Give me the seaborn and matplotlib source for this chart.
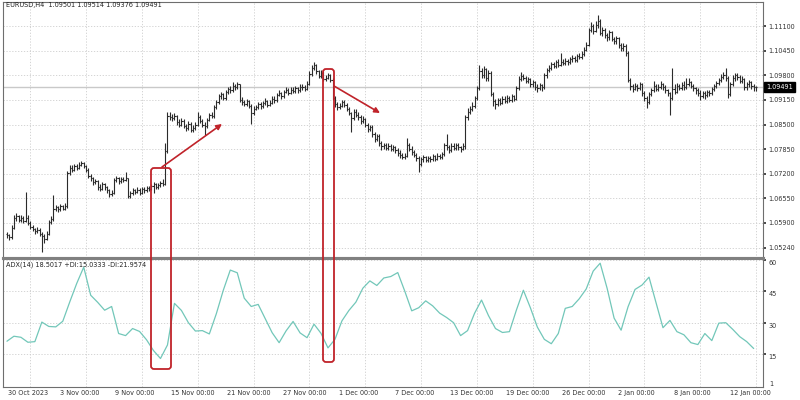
import numpy as np
import pandas as pd
import seaborn as sns
import matplotlib.pyplot as plt
import matplotlib.transforms as mtransforms
from matplotlib.patches import FancyBboxPatch, FancyArrowPatch

# EURUSD H4, prices in pips above 1.05000
first_open = 60
close = [58, 52, 78, 102, 108, 98, 104, 96, 104, 90,
         80, 74, 70, 72, 62, 56, 48, 62, 92, 100,
         128, 132, 126, 134, 128, 136, 222, 236, 230, 240,
         236, 244, 248, 240, 230, 214, 208, 198, 200, 186,
         180, 192, 184, 176, 166, 170, 204, 208, 200, 206,
         204, 208, 162, 168, 176, 172, 178, 170, 180, 176,
         182, 180, 188, 192, 184, 190, 196, 194, 280, 372,
         370, 366, 372, 356, 350, 360, 346, 340, 352, 336,
         342, 350, 370, 360, 350, 346, 362, 374, 372, 396,
         410, 424, 430, 420, 436, 444, 440, 452, 448, 456,
         416, 410, 404, 412, 400, 380, 392, 396, 404, 398,
         406, 412, 402, 408, 418, 414, 428, 432, 424, 436,
         440, 434, 442, 438, 446, 440, 450, 448, 444, 458,
         484, 500, 506, 490, 478, 486, 470, 474, 480, 468,
         420, 404, 396, 400, 410, 402, 392, 380, 368, 384,
         376, 370, 360, 364, 350, 338, 344, 326, 312, 320,
         300, 292, 296, 288, 294, 286, 290, 284, 276, 270,
         264, 268, 296, 286, 278, 270, 262, 246, 258, 264,
         256, 262, 258, 266, 260, 268, 264, 272, 296, 290,
         282, 294, 288, 296, 290, 286, 292, 370, 384, 392,
         400, 420, 446, 490, 480, 496, 472, 486, 430, 412,
         404, 414, 408, 418, 412, 420, 416, 424, 418, 446,
         470, 478, 474, 466, 470, 456, 462, 450, 446, 454,
         448, 480, 494, 500, 510, 504, 514, 508, 516, 512,
         518, 514, 522, 526, 520, 530, 528, 536, 548, 560,
         600, 610, 598, 612, 624, 592, 600, 586, 580, 594,
         576, 570, 578, 560, 552, 558, 540, 468, 452, 444,
         452, 446, 456, 432, 420, 410, 430, 440, 452, 444,
         450, 456, 448, 440, 432, 420, 444, 436, 452, 446,
         454, 448, 458, 462, 452, 446, 440, 434, 426, 432,
         428, 436, 432, 444, 452, 460, 468, 476, 480, 474,
         430, 456, 472, 480, 476, 466, 470, 448, 456, 462,
         452, 450, 449]
high = [66, 62, 84, 110, 116, 112, 110, 108, 172, 110,
        94, 84, 78, 80, 76, 66, 60, 68, 98, 108,
        164, 138, 134, 140, 138, 142, 228, 244, 242, 246,
        246, 250, 254, 252, 244, 234, 220, 212, 206, 204,
        192, 198, 196, 188, 180, 176, 210, 214, 212, 212,
        212, 224, 210, 174, 182, 180, 184, 182, 186, 184,
        188, 188, 194, 198, 196, 196, 202, 206, 300, 382,
        384, 378, 380, 376, 364, 368, 364, 352, 358, 356,
        348, 356, 382, 374, 364, 356, 368, 380, 384, 402,
        416, 430, 436, 434, 442, 450, 452, 462, 458, 462,
        458, 422, 416, 418, 416, 404, 398, 402, 410, 410,
        412, 420, 416, 414, 424, 424, 434, 440, 436, 442,
        448, 446, 450, 448, 452, 450, 458, 456, 454, 466,
        490, 506, 515, 510, 494, 494, 490, 482, 486, 484,
        472, 424, 410, 408, 416, 414, 406, 396, 384, 390,
        392, 382, 376, 372, 368, 354, 350, 348, 330, 326,
        324, 306, 302, 300, 300, 298, 296, 294, 288, 282,
        276, 274, 314, 302, 292, 284, 276, 268, 264, 270,
        268, 268, 266, 272, 270, 274, 272, 278, 302, 325,
        296, 300, 300, 302, 300, 294, 300, 376, 394, 400,
        410, 426, 452, 507, 500, 504, 500, 494, 490, 436,
        418, 420, 420, 424, 424, 428, 426, 430, 428, 452,
        478, 488, 484, 478, 476, 474, 468, 466, 456, 460,
        458, 486, 500, 506, 516, 516, 520, 522, 539, 522,
        526, 524, 528, 534, 532, 536, 540, 544, 554, 568,
        606, 620, 616, 622, 639, 628, 608, 604, 592, 600,
        598, 582, 584, 582, 566, 564, 562, 544, 472, 458,
        460, 458, 462, 460, 438, 426, 436, 446, 466, 458,
        458, 464, 460, 454, 444, 436, 499, 456, 460, 458,
        462, 466, 472, 474, 466, 458, 450, 446, 440, 438,
        438, 442, 440, 450, 458, 466, 474, 484, 488, 499,
        478, 462, 480, 486, 486, 482, 478, 474, 462, 468,
        466, 458, 451]
low = [50, 44, 48, 74, 96, 92, 92, 90, 92, 84,
       74, 68, 62, 64, 56, 14, 36, 44, 58, 88,
       96, 122, 120, 122, 124, 124, 130, 216, 224, 226,
       230, 232, 240, 234, 224, 208, 202, 190, 192, 178,
       174, 176, 178, 170, 158, 162, 166, 198, 194, 196,
       198, 200, 156, 156, 164, 166, 168, 164, 166, 170,
       172, 174, 176, 170, 180, 180, 186, 188, 190, 276,
       362, 358, 362, 350, 344, 346, 340, 334, 336, 330,
       330, 336, 346, 354, 344, 322, 342, 358, 366, 368,
       390, 404, 418, 414, 416, 430, 434, 436, 442, 444,
       410, 402, 398, 398, 394, 351, 374, 388, 390, 392,
       394, 402, 396, 398, 404, 408, 410, 424, 418, 420,
       432, 428, 430, 432, 434, 434, 436, 442, 438, 440,
       454, 478, 494, 484, 472, 472, 464, 466, 470, 462,
       414, 396, 388, 390, 396, 396, 386, 374, 330, 362,
       370, 362, 352, 354, 344, 330, 332, 318, 304, 306,
       294, 284, 286, 282, 284, 280, 280, 276, 268, 262,
       258, 258, 264, 280, 270, 264, 254, 225, 240, 252,
       250, 250, 250, 254, 254, 256, 258, 260, 268, 284,
       276, 278, 282, 284, 284, 278, 282, 286, 362, 378,
       386, 394, 414, 440, 472, 474, 466, 466, 424, 400,
       392, 398, 402, 404, 406, 408, 410, 410, 412, 414,
       442, 466, 468, 460, 460, 450, 450, 440, 436, 440,
       438, 444, 474, 488, 494, 498, 500, 502, 504, 506,
       508, 508, 510, 516, 514, 516, 522, 524, 532, 544,
       556, 594, 590, 594, 606, 586, 584, 578, 570, 574,
       570, 562, 562, 552, 544, 544, 530, 462, 440, 436,
       440, 438, 440, 426, 412, 394, 404, 424, 436, 438,
       438, 444, 442, 432, 424, 375, 414, 430, 432, 440,
       440, 442, 444, 452, 446, 438, 430, 424, 416, 420,
       418, 422, 424, 428, 438, 446, 454, 462, 470, 466,
       420, 426, 452, 466, 468, 460, 460, 440, 442, 450,
       444, 438, 438]

# ADX(14), read every 3rd bar
adx = [21.0, 23.4, 22.9, 20.5, 20.8, 30.2, 28.1, 27.9, 30.6, 39.9,
       48.8, 56.6, 43.1, 39.7, 35.9, 37.7, 24.7, 23.7, 27.1, 25.7,
       21.7, 16.5, 12.7, 19.2, 39.2, 35.8, 29.9, 25.9, 26.1, 24.5,
       34.2, 45.5, 55.2, 53.9, 41.7, 37.7, 38.7, 31.9, 25.1, 20.3,
       26.0, 30.5, 25.0, 22.7, 29.2, 24.8, 17.8, 21.9, 30.8, 35.8,
       39.8, 46.5, 50.0, 47.8, 51.4, 52.1, 54.0, 45.1, 35.6, 37.1,
       40.4, 38.0, 34.5, 32.4, 29.9, 23.7, 26.1, 34.4, 40.8, 33.3,
       27.1, 25.2, 25.6, 36.0, 45.5, 37.1, 27.8, 21.9, 19.8, 24.7,
       36.8, 37.7, 41.4, 46.1, 54.7, 58.5, 46.4, 32.1, 26.3, 37.6,
       45.9, 48.0, 51.8, 39.6, 27.5, 31.0, 25.6, 24.1, 20.3, 19.4,
       24.7, 21.3, 29.7, 29.9, 26.7, 23.2, 20.8, 17.5]

date_labels = ["30 Oct 2023", "3 Nov 00:00", "9 Nov 00:00", "15 Nov 00:00",
               "21 Nov 00:00", "27 Nov 00:00", "1 Dec 00:00", "7 Dec 00:00",
               "13 Dec 00:00", "19 Dec 00:00", "26 Dec 00:00", "2 Jan 00:00",
               "8 Jan 00:00", "12 Jan 00:00"]
date_bars = [0, 22, 46, 70, 94, 118, 142, 166, 190, 214, 238, 262, 286, 310]
price_ticks = [1.11100, 1.10450, 1.09800, 1.09150, 1.08500,
               1.07850, 1.07200, 1.06550, 1.05900, 1.05240]
last_price = 1.09491

df = pd.DataFrame({"close": close, "high": high, "low": low})
df["open"] = [first_open] + close[:-1]
for c in ["open", "close", "high", "low"]:
    df[c] = 1.05 + df[c] / 10000
df["bar"] = np.arange(len(df))

adx_df = pd.DataFrame({"bar": np.arange(len(adx)) * 3, "adx": adx})

sns.set_theme(style="white")
plt.rcParams["font.family"] = ["DejaVu Sans"]
fs = 4.7
bar_col = "#2b2b2b"
frame = "#6e6e6e"
grid_kw = dict(color="#cdcdcd", linestyle=(0, (1.5, 2)), linewidth=0.6)
red = "#c0232a"

fig = plt.figure(figsize=(8, 4), dpi=100)
ax = fig.add_axes([3 / 800, 142 / 400, 760 / 800, 256 / 400])
ax2 = fig.add_axes([3 / 800, 13 / 400, 760 / 800, 129 / 400])

# price bars
ax.axhline(last_price, color="#c9c9c9", lw=1.0, zorder=1)
ax.vlines(df["bar"], df["low"], df["high"], color=bar_col, lw=0.8, zorder=3)
ax.hlines(df["open"], df["bar"] - 0.5, df["bar"], color=bar_col, lw=0.8, zorder=3)
ax.hlines(df["close"], df["bar"], df["bar"] + 0.5, color=bar_col, lw=0.8, zorder=3)

# adx line
sns.lineplot(data=adx_df, x="bar", y="adx", ax=ax2, color="#72c7b9", lw=0.9)

for a in (ax, ax2):
    a.set_xlim(-1.7, 325)
    a.set_xticks(date_bars)
    a.set_xticks(np.arange(10, 325, 12), minor=True)
    a.grid(True, which="minor", axis="x", **grid_kw)
    a.grid(True, which="major", axis="y", **grid_kw)
    a.yaxis.tick_right()
    a.set_xlabel("")
    a.set_ylabel("")
    for s in a.spines.values():
        s.set_color(frame)
        s.set_linewidth(0.8)
    a.tick_params(which="minor", length=0)

ax.set_ylim(1.04976, 1.11734)
ax.set_yticks(price_ticks)
ax.set_yticklabels([f"{p:.5f}" for p in price_ticks])
ax.tick_params(axis="y", labelsize=fs, length=2, pad=2, colors="#333333")
ax.tick_params(axis="x", length=0, labelbottom=False)
ax.spines["bottom"].set_linewidth(2.2)
ax.spines["bottom"].set_color("#808080")

ytr = mtransforms.blended_transform_factory(ax.transAxes, ax.transData)
ax.text(1.004, last_price, "1.09491", transform=ytr, fontsize=fs, color="white",
        va="center", ha="left",
        bbox=dict(boxstyle="square,pad=0.35", fc="black", ec="black"))

ax2.set_ylim(-1, 61)
ax2.set_yticks([15, 30, 45, 60])
ax2.set_yticklabels(["15", "30", "45", "60"], va="top")
ax2.tick_params(axis="y", labelsize=fs, length=2, pad=2, colors="#333333")
ax2.tick_params(axis="x", which="major", length=3, labelbottom=False, color=frame)
ax2.spines["top"].set_linewidth(2.2)
ax2.spines["top"].set_color("#808080")
ytr2 = mtransforms.blended_transform_factory(ax2.transAxes, ax2.transData)
ax2.text(1.008, -1, "1", transform=ytr2, fontsize=fs, color="#333333",
         va="bottom", ha="left")

xtr = mtransforms.blended_transform_factory(ax2.transData, ax2.transAxes)
for b, lab in zip(date_bars, date_labels):
    ax2.text(b + 0.6, -0.02, lab, transform=xtr, fontsize=fs, color="#333333",
             ha="left", va="top")

fig.text(6 / 800, 1 - 5 / 400, "EURUSD,H4  1.09501 1.09514 1.09376 1.09491",
         fontsize=fs, color="#222222", va="center", ha="left")
fig.text(6 / 800, 1 - 265 / 400, "ADX(14) 18.5017 +DI:15.0333 -DI:21.9574",
         fontsize=fs, color="#222222", va="center", ha="left")

# red highlight boxes and arrows (figure inches)
tr = fig.dpi_scale_trans
for (x0, y0, w, h) in [(1.51, 0.31, 0.20, 2.01), (3.23, 0.38, 0.11, 2.93)]:
    fig.add_artist(FancyBboxPatch((x0, y0), w, h,
                                  boxstyle="round,pad=0,rounding_size=0.03",
                                  transform=tr, fill=False, ec=red, lw=1.3,
                                  zorder=10))
for (p0, p1) in [((1.62, 2.33), (2.22, 2.76)), ((3.34, 3.14), (3.80, 2.87))]:
    fig.add_artist(FancyArrowPatch(p0, p1, transform=tr, arrowstyle="-|>",
                                   mutation_scale=8, color=red, lw=1.2,
                                   shrinkA=0, shrinkB=0, zorder=10))

fig.savefig("out.png", dpi=100)
